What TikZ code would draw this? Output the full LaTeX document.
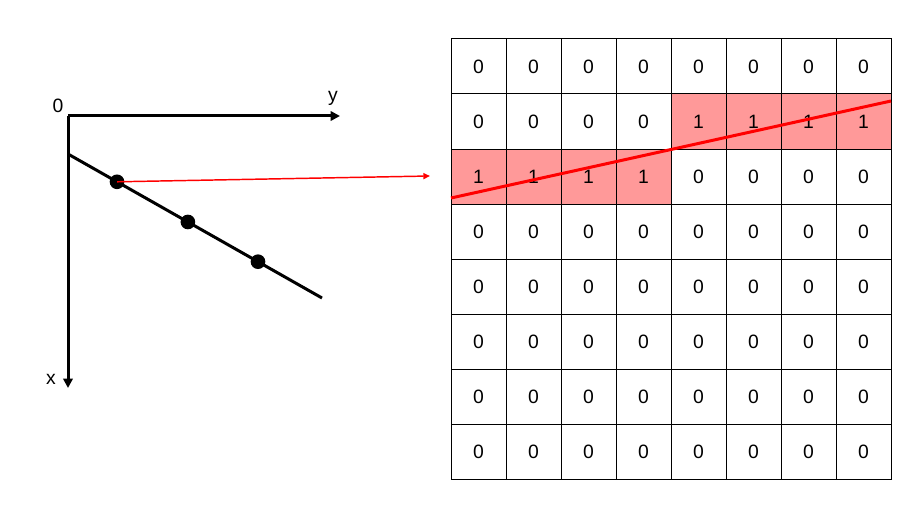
\documentclass[tikz,border=0pt]{standalone}
\usepackage{fontspec}
\setmainfont{Liberation Sans}
\usetikzlibrary{arrows.meta}
\definecolor{hitRed}{RGB}{255,153,153}

\begin{document}
\begin{tikzpicture}[
  x=0.75pt, y=-0.75pt,
  cell/.style={draw, line width=0.75pt, minimum size=41.25pt, inner sep=0pt, font=\fontsize{14.5}{17}\selectfont, anchor=center},
  hit/.style={cell, fill=hitRed},
  axis/.style={line width=2.25pt, -{Triangle[length=7pt, width=7pt]}},
  dot/.style={circle, fill=black, minimum size=11pt, inner sep=0pt},
  lbl/.style={font=\fontsize{14.5}{17}\selectfont, inner sep=0pt}
]
  \useasboundingbox (0,0) rectangle (923,506);
  % Axes
  \coordinate (origin) at (68,116);
  \coordinate (yEnd) at (340,116);
  \coordinate (xEnd) at (68,388);
  \draw[axis] (origin) -- (yEnd);
  \draw[axis] (origin) -- (xEnd);
  \node[lbl] (originLbl) at (58,106) {0};
  \node[lbl] (yLbl) at (333,98) {y};
  \node[lbl] (xLbl) at (51,379) {x};
  % Line with sample points
  \coordinate (lineStart) at (68,154);
  \coordinate (lineEnd) at (322,298);
  \draw[line width=2.25pt] (lineStart) -- (lineEnd)
    node[dot, pos=0.193] (dotA) {}
    node[dot, pos=0.472] (dotB) {}
    node[dot, pos=0.748] (dotC) {};
  % Accumulator grid
  \foreach \r in {1,...,8} {
    \foreach \c in {1,...,8} {
      \pgfmathtruncatemacro{\hitval}{((\r==2 && \c>4) || (\r==3 && \c<5)) ? 1 : 0}
      \ifnum\hitval=1
        \node[hit] (cell-\r-\c) at ({451+55*\c-27.5}, {39+55*\r-27.5}) {\raisebox{-1.5pt}{1}};
      \else
        \node[cell] (cell-\r-\c) at ({451+55*\c-27.5}, {39+55*\r-27.5}) {\raisebox{-1.5pt}{0}};
      \fi
    }
  }
  % Mapped line in parameter space
  \coordinate (gridLineA) at (451,198);
  \coordinate (gridLineB) at (891,101);
  \draw[red, line width=2.25pt] (gridLineA) -- (gridLineB);
  % Mapping arrow
  \coordinate (arrowEnd) at (430,176);
  \draw[red, line width=1.1pt, -{Triangle[length=5pt, width=4.5pt]}] (dotA.center) -- (arrowEnd);
\end{tikzpicture}
\end{document}
